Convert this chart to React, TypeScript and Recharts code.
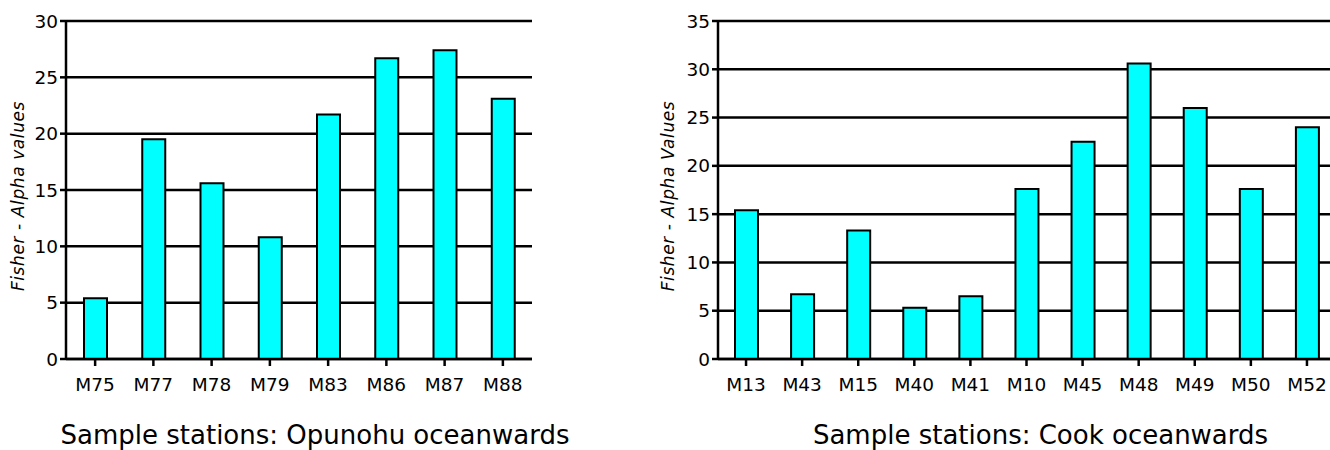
import React from "react";
import { Bar, BarChart, CartesianGrid, XAxis, YAxis, Label } from "recharts";

const opunohuStations = ["M75", "M77", "M78", "M79", "M83", "M86", "M87", "M88"];
const opunohuAlpha = [5.4, 19.5, 15.6, 10.8, 21.7, 26.7, 27.4, 23.1];
const opunohuTicks = [0, 5, 10, 15, 20, 25, 30];

const cookStations = ["M13", "M43", "M15", "M40", "M41", "M10", "M45", "M48", "M49", "M50", "M52"];
const cookAlpha = [15.4, 6.7, 13.3, 5.3, 6.5, 17.6, 22.5, 30.6, 26.0, 17.6, 24.0];
const cookTicks = [0, 5, 10, 15, 20, 25, 30, 35];

const FONT = "'DejaVu Sans', Verdana, sans-serif";
const tickStyle = { fill: "#000", fontSize: 18.5, fontFamily: FONT };

type PanelProps = {
  stations: string[];
  values: number[];
  ticks: number[];
  yLabel: string;
  title: string;
  width: number;
  rightMargin: number;
  yAxisWidth: number;
  titleDx: number;
};

function StationPanel({ stations, values, ticks, yLabel, title, width, rightMargin, yAxisWidth, titleDx }: PanelProps) {
  const data = stations.map((station, i) => ({ station, alpha: values[i] }));
  const top = ticks[ticks.length - 1];

  return (
    <BarChart width={width} height={450} data={data} margin={{ top: 21, right: rightMargin, bottom: 0, left: 0 }}>
      <CartesianGrid vertical={false} stroke="#000" strokeWidth={2.5} />
      <XAxis
        dataKey="station"
        height={91}
        interval={0}
        stroke="#000"
        strokeWidth={2.5}
        tickSize={7}
        tickMargin={12}
        fontSize={18.5}
        fontFamily={FONT}
        tick={tickStyle}
      >
        <Label
          value={title}
          position="insideBottom"
          offset={6}
          dx={titleDx}
          style={{ fill: "#000", fontSize: 26, fontFamily: FONT }}
        />
      </XAxis>
      <YAxis
        width={yAxisWidth}
        domain={[0, top]}
        ticks={ticks}
        interval={0}
        stroke="#000"
        strokeWidth={2.5}
        tickSize={6}
        tickMargin={2}
        fontSize={18.5}
        fontFamily={FONT}
        tick={tickStyle}
      >
        <Label
          value={yLabel}
          angle={-90}
          position="center"
          dx={-(yAxisWidth / 2 - 18)}
          dy={6}
          style={{ fill: "#000", fontSize: 17, letterSpacing: 0.6, fontStyle: "italic", fontFamily: FONT }}
        />
      </YAxis>
      <Bar dataKey="alpha" fill="#00ffff" stroke="#000" strokeWidth={2} barSize={23} isAnimationActive={false} />
    </BarChart>
  );
}

export default function App() {
  return (
    <div
      style={{
        position: "absolute",
        left: 0,
        top: 0,
        width: 1330,
        height: 450,
        overflow: "hidden",
        background: "#fff",
      }}
    >
      <div style={{ position: "absolute", left: 0, top: 0 }}>
        <StationPanel
          stations={opunohuStations}
          values={opunohuAlpha}
          ticks={opunohuTicks}
          yLabel="Fisher - Alpha values"
          title="Sample stations: Opunohu oceanwards"
          width={620}
          rightMargin={88}
          yAxisWidth={66}
          titleDx={16}
        />
      </div>
      <div style={{ position: "absolute", left: 650, top: 0 }}>
        <StationPanel
          stations={cookStations}
          values={cookAlpha}
          ticks={cookTicks}
          yLabel="Fisher - Alpha Values"
          title="Sample stations: Cook oceanwards"
          width={685}
          rightMargin={0}
          yAxisWidth={68}
          titleDx={14}
        />
      </div>
    </div>
  );
}
